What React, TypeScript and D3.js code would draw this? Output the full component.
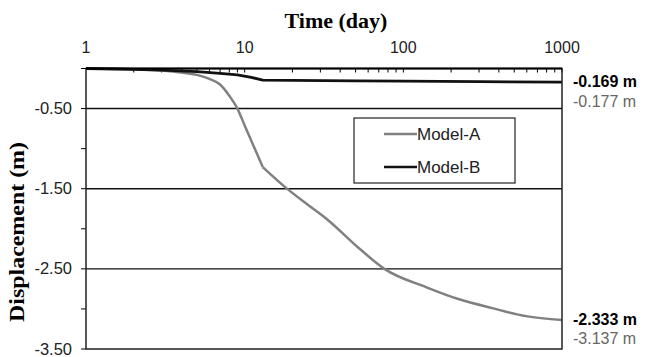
import React from "react";
import * as d3 from "d3";

// time (day), log axis
const timeA = [1, 2, 3, 4, 5, 6, 7, 8, 9, 10, 11, 12, 13, 18, 25, 33, 53, 76, 140, 225, 363, 593, 1000];
const modelA = [0, -0.01, -0.025, -0.05, -0.08, -0.13, -0.2, -0.34, -0.5, -0.71, -0.9, -1.07, -1.23, -1.48, -1.7, -1.88, -2.25, -2.5, -2.73, -2.88, -2.99, -3.09, -3.137];
const timeB = [1, 2, 3, 5, 7, 9, 11, 13, 20, 50, 100, 300, 1000];
const modelB = [0, -0.01, -0.02, -0.04, -0.06, -0.08, -0.11, -0.145, -0.148, -0.155, -0.158, -0.164, -0.169];
const kinkDay = 13; // Model-A changes slope sharply here

const xTicks = [1, 10, 100, 1000];
const yTicks = [0, -0.5, -1, -1.5, -2, -2.5, -3, -3.5];
const yLabels = [-0.5, -1.5, -2.5, -3.5];
const gridLines = [-0.5, -1.5, -2.5];
const endLabels = [
  { text: "-0.169 m", dy: 87, bold: true },
  { text: "-0.177 m", dy: 107, bold: false },
  { text: "-2.333 m", dy: 325, bold: true },
  { text: "-3.137 m", dy: 344, bold: false },
];

const W = 647;
const H = 357;
const left = 86, right = 562, top = 68.5, bottom = 349;

const App = () => {
  const x = d3.scaleLog().domain([1, 1000]).range([left, right]);
  const y = d3.scaleLinear().domain([0, -3.5]).range([top, bottom]);

  // minor log ticks 2..9 per decade
  const minor: number[] = [];
  for (let d = 1; d < 1000; d *= 10) {
    for (let k = 2; k <= 10; k++) minor.push(d * k);
  }

  const ptsA = timeA.map((t, i) => [t, modelA[i]] as [number, number]);
  const ptsB = timeB.map((t, i) => [t, modelB[i]] as [number, number]);
  const smooth = d3
    .line<[number, number]>()
    .x((d) => x(d[0]))
    .y((d) => y(d[1]))
    .curve(d3.curveMonotoneX);
  const straight = d3
    .line<[number, number]>()
    .x((d) => x(d[0]))
    .y((d) => y(d[1]))
    .curve(d3.curveLinear);
  const pathA1 = smooth(ptsA.filter((d) => d[0] <= kinkDay)) || "";
  const pathA2 = smooth(ptsA.filter((d) => d[0] >= kinkDay)) || "";
  const pathB = straight(ptsB) || "";

  const sans = "'Liberation Sans', Arial, sans-serif";
  const serif = "'Liberation Serif', 'Times New Roman', serif";

  return (
    <svg width={W} height={H} style={{ position: "absolute", left: 0, top: 0, background: "#fff" }}>
      <rect width={W} height={H} fill="#fff" />
      <text x={336} y={28} textAnchor="middle" fontFamily={serif} fontWeight="bold" fontSize={22}>
        Time  (day)
      </text>
      <text
        transform={`translate(24,232) rotate(-90)`}
        textAnchor="middle"
        fontFamily={serif}
        fontWeight="bold"
        fontSize={22}
        textLength={180}
        lengthAdjust="spacingAndGlyphs"
      >
        Displacement  (m)
      </text>

      {xTicks.map((t) => (
        <text key={t} x={x(t)} y={53} textAnchor="middle" fontFamily={sans} fontSize={16} fill="#222">
          {t}
        </text>
      ))}
      {minor.map((t) => (
        <line key={t} x1={x(t)} x2={x(t)} y1={top} y2={top + 4} stroke="#000" strokeWidth={1} />
      ))}

      {gridLines.map((v) => (
        <line key={v} x1={left} x2={right} y1={y(v)} y2={y(v)} stroke="#111" strokeWidth={1.4} />
      ))}
      {yTicks.map((v) => (
        <line key={v} x1={left - 5} x2={left} y1={y(v)} y2={y(v)} stroke="#000" strokeWidth={1} />
      ))}
      {yLabels.map((v) => (
        <text key={v} x={72} y={y(v) + 5.5} textAnchor="end" fontFamily={sans} fontSize={16.5} fill="#222">
          {v.toFixed(2)}
        </text>
      ))}

      <path d={pathA1} fill="none" stroke="#808080" strokeWidth={2.5} strokeLinejoin="round" />
      <path d={pathA2} fill="none" stroke="#808080" strokeWidth={2.5} strokeLinejoin="round" />
      <path d={pathB} fill="none" stroke="#111" strokeWidth={2.8} />

      <rect x={left} y={top} width={right - left} height={bottom - top} fill="none" stroke="#222" strokeWidth={1.5} />
      <line x1={left} x2={right} y1={top} y2={top} stroke="#000" strokeWidth={2} />

      <g>
        <rect x={354} y={118} width={161} height={65} fill="#fff" stroke="#222" strokeWidth={1.2} />
        <line x1={384} x2={417} y1={134} y2={134} stroke="#808080" strokeWidth={2.5} />
        <text x={417} y={140} fontFamily={sans} fontSize={17} fill="#222">Model-A</text>
        <line x1={384} x2={417} y1={167} y2={167} stroke="#111" strokeWidth={2.5} />
        <text x={417} y={173} fontFamily={sans} fontSize={17} fill="#222">Model-B</text>
      </g>

      {endLabels.map((d) => (
        <text
          key={d.text}
          x={573}
          y={d.dy}
          fontFamily={sans}
          fontSize={16}
          fontWeight={d.bold ? "bold" : "normal"}
          fill={d.bold ? "#000" : "#666"}
        >
          {d.text}
        </text>
      ))}
    </svg>
  );
};

export default App;
